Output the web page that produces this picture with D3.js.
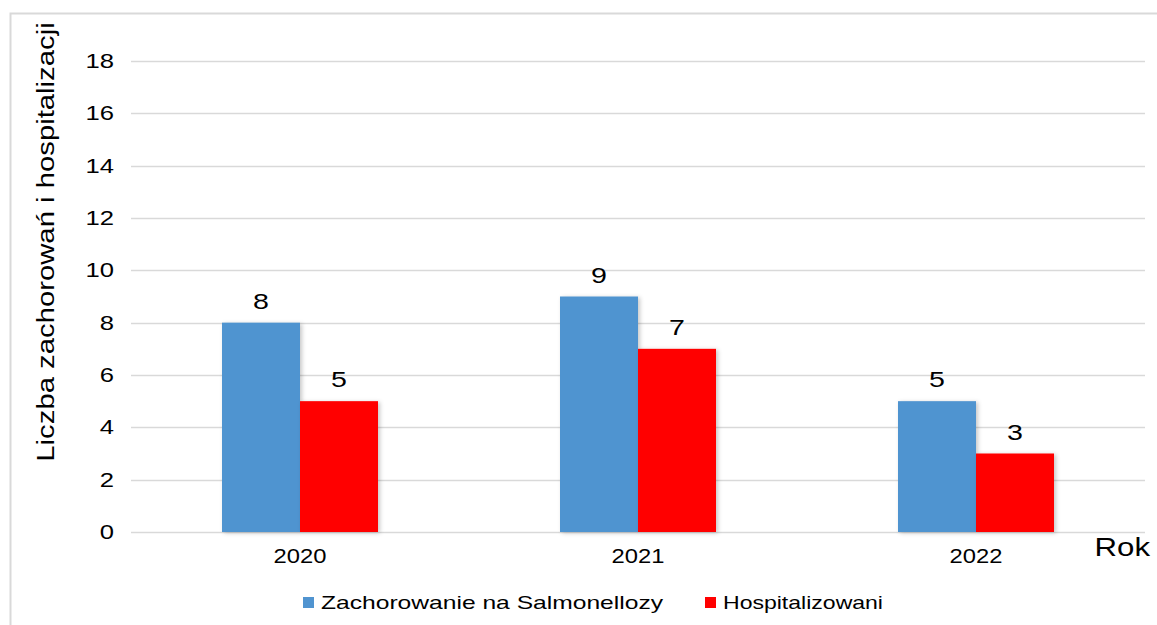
<!DOCTYPE html>
<html><head><meta charset="utf-8">
<script src="https://cdn.jsdelivr.net/npm/d3@7"></script>
<style>body{margin:0;background:#fff}svg{display:block;font-family:"Liberation Sans",Arial,sans-serif}</style>
</head><body>
<svg id="c" width="1157" height="625"></svg>
<script>
const categories = ["2020", "2021", "2022"];
const seriesNames = ["Zachorowanie na Salmonellozy", "Hospitalizowani"];
const cases = [8, 9, 5];
const hospitalized = [5, 7, 3];
const yTicks = [0, 2, 4, 6, 8, 10, 12, 14, 16, 18];
const colors = ["#5094D0", "#FF0000"];

const svg = d3.select("#c");
const FONT = "Liberation Sans, Arial, sans-serif";
const plotLeft = 131, plotRight = 1145, plotTop = 61, plotBottom = 532;

// outer border
svg.append("path").attr("d", "M10.5,625 V13.5 H1157").attr("fill", "none").attr("stroke", "#d9d9d9").attr("stroke-width", 2);

const x = d3.scaleBand().domain(categories).range([plotLeft, plotRight]).paddingInner(0).paddingOuter(0);
const y = d3.scaleLinear().domain([0, 18]).range([plotBottom, plotTop]);
const inner = d3.scaleBand().domain([0, 1]).range([0, x.bandwidth()]).paddingInner(0).paddingOuter((x.bandwidth() - 156) / 2 / 78);

// gridlines
svg.append("g").selectAll("line").data(yTicks).join("line")
  .attr("x1", plotLeft).attr("x2", plotRight)
  .attr("y1", d => Math.round(y(d)) + 0.5).attr("y2", d => Math.round(y(d)) + 0.5)
  .attr("stroke", "#d9d9d9").attr("stroke-width", 1.5);

// y tick labels
const ySx = 1.25;
const yAxis = svg.append("g").attr("transform", `translate(${plotLeft},0)`)
  .call(d3.axisLeft(y).tickValues(yTicks).tickSize(0).tickPadding(17 / ySx).tickFormat(d3.format("d")));
yAxis.select(".domain").remove();
yAxis.selectAll("text").attr("font-size", 20.5).attr("fill", "#000").attr("font-family", FONT)
  .attr("transform", `scale(${ySx},1)`);

// x tick labels
const xAxis = svg.append("g").attr("transform", `translate(0,${plotBottom})`)
  .call(d3.axisBottom(x).tickSize(0).tickPadding(17));
xAxis.select(".domain").remove();
xAxis.selectAll("text").attr("font-size", 19.5).attr("fill", "#000").attr("font-family", FONT)
  .attr("transform", "scale(1.22,1)");

const defs = svg.append("defs");
const f = defs.append("filter").attr("id", "sh").attr("x", "-10%").attr("y", "-10%").attr("width", "130%").attr("height", "130%");
f.append("feDropShadow").attr("dx", 2).attr("dy", 1).attr("stdDeviation", 2).attr("flood-color", "#000").attr("flood-opacity", 0.22);

const series = [cases, hospitalized];
series.forEach((vals, si) => {
  const g = svg.append("g");
  g.selectAll("rect").data(vals).join("rect")
    .attr("x", (d, i) => x(categories[i]) + inner(si))
    .attr("width", inner.bandwidth())
    .attr("y", d => y(d))
    .attr("height", d => y(0) - y(d))
    .attr("fill", colors[si])
    .attr("filter", "url(#sh)");
  g.selectAll("text").data(vals).join("text")
    .attr("transform", (d, i) => `translate(${x(categories[i]) + inner(si) + inner.bandwidth() / 2},${y(d) - 14}) scale(1.3,1)`)
    .attr("text-anchor", "middle")
    .attr("font-size", 22).attr("fill", "#000")
    .text(d => d);
});

// axis titles
svg.append("text").attr("transform", `translate(54,242) rotate(-90) scale(1.22,1)`)
  .attr("text-anchor", "middle").attr("font-size", 24).attr("fill", "#000")
  .text("Liczba zachorowań i hospitalizacji");
svg.append("text").attr("transform", "translate(1150,556) scale(1.2,1)").attr("text-anchor", "end")
  .attr("font-size", 26).attr("fill", "#000").text("Rok");

// legend
const legend = [{name: seriesNames[0], x: 303, w: 342}, {name: seriesNames[1], x: 705, w: 160}];
legend.forEach((l, i) => {
  svg.append("rect").attr("x", l.x).attr("y", 597).attr("width", 11).attr("height", 11).attr("fill", colors[i]);
  svg.append("text").attr("x", l.x + 18).attr("y", 609)
    .attr("textLength", l.w).attr("lengthAdjust", "spacingAndGlyphs")
    .attr("font-size", 18.5).attr("fill", "#000").text(l.name);
});
</script>
</body></html>
